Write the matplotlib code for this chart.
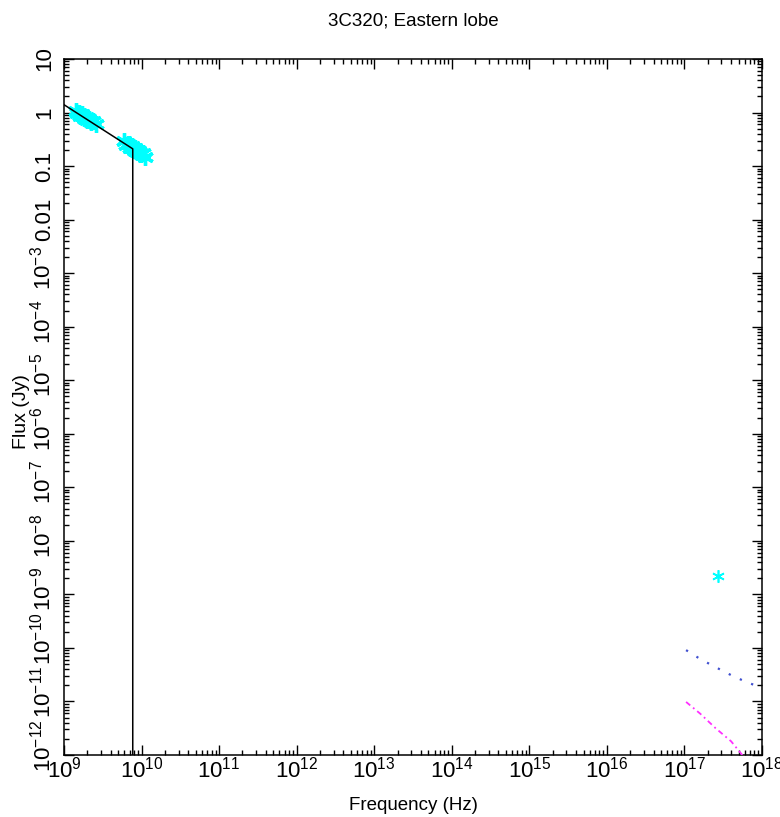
import numpy as np
import matplotlib
matplotlib.use('Agg')
import matplotlib.pyplot as plt
from matplotlib import ticker, transforms

plt.rcParams['font.family'] = 'Liberation Sans'
plt.rcParams['mathtext.fontset'] = 'custom'
plt.rcParams['mathtext.rm'] = 'Liberation Sans'

# radio data (Hz, Jy)
radio_nu_low = [1.42e9, 1.48e9, 1.55e9, 1.62e9, 1.70e9, 1.80e9, 1.90e9, 2.00e9, 2.10e9, 2.25e9, 2.40e9, 2.55e9]
radio_S_low = [1.08, 0.97, 1.00, 0.88, 0.93, 0.80, 0.84, 0.73, 0.77, 0.66, 0.69, 0.60]
radio_nu_high = [5.9e9, 6.3e9, 6.7e9, 7.1e9, 7.5e9, 7.9e9, 8.3e9, 8.7e9, 9.2e9, 9.7e9, 10.3e9, 11.0e9]
radio_S_high = [0.29, 0.25, 0.26, 0.22, 0.24, 0.20, 0.215, 0.185, 0.195, 0.165, 0.175, 0.15]

# x-ray point
xray_nu = [2.7e17]
xray_S = [2.2e-9]

# synchrotron model
sync_nu = [1e9, 7.7e9, 7.7e9]
sync_S = [1.40, 0.21, 1e-14]

# inverse compton models
ic_nu = [1.05e17, 1.6e17, 2.5e17, 4.0e17, 6.3e17, 1.0e18, 1.3e18]
ic1_S = [9.1e-11, 6.2e-11, 4.4e-11, 3.1e-11, 2.3e-11, 1.8e-11, 1.6e-11]
ic2_S = [9.8e-12, 5.9e-12, 3.2e-12, 1.8e-12, 8.0e-13, 1.6e-13, 6e-14]

xexp = list(range(9, 19))
yexp = list(range(1, -13, -1))
ylabels_plain = {1: '10', 0: '1', -1: '0.1', -2: '0.01'}

fig = plt.figure(figsize=(7.8, 8.17), dpi=100)
ax = fig.add_axes([64/780, 62/817, 698/780, 696/817])

mk = (6, 2, 0)
ax.plot(radio_nu_low, radio_S_low, ls='none', marker=mk, ms=12, mew=2.4, color='cyan', zorder=2)
ax.plot(radio_nu_high, radio_S_high, ls='none', marker=mk, ms=12, mew=2.4, color='cyan', zorder=2)
ax.plot(xray_nu, xray_S, ls='none', marker=mk, ms=9, mew=1.2, color='cyan', zorder=2)
ax.plot(sync_nu, sync_S, color='black', lw=1.1, zorder=3)
ax.plot(ic_nu, ic1_S, color='#4050d0', lw=1.6, ls=(0, (1, 4.5)), zorder=3)
ax.plot(ic_nu, ic2_S, color='#ff30ff', lw=1.3, ls=(0, (3, 2, 1, 2)), zorder=3)

ax.set_xscale('log')
ax.set_yscale('log')
ax.set_xlim(1e9, 1e18)
ax.set_ylim(1e-12, 10)

ax.set_xticks([10.0**e for e in xexp])
ax.set_xticklabels([r'$\mathregular{10^{%d}}$' % e for e in xexp], fontsize=16)
ax.set_yticks([10.0**e for e in yexp])
ax.set_yticklabels([])
ax.xaxis.set_minor_locator(ticker.LogLocator(base=10, subs=np.arange(2, 10), numticks=200))
ax.yaxis.set_minor_locator(ticker.LogLocator(base=10, subs=np.arange(2, 10), numticks=200))
ax.xaxis.set_minor_formatter(ticker.NullFormatter())
ax.yaxis.set_minor_formatter(ticker.NullFormatter())
ax.tick_params(which='both', direction='in', top=True, right=True, width=1.0)
ax.tick_params(which='major', length=7.5)
ax.tick_params(which='minor', length=3.8)
ax.tick_params(axis='x', pad=1)
for s in ax.spines.values():
    s.set_linewidth(1.1)

# y tick labels, rotated like the original
ytr = ax.get_yaxis_transform()
ytr_shift = transforms.offset_copy(ytr, fig=fig, x=0, y=-17, units='dots')
for e in yexp:
    if e in ylabels_plain:
        ax.text(-0.02, 10.0**e, ylabels_plain[e], transform=ytr, rotation=90,
                rotation_mode='anchor', ha='center', va='baseline', fontsize=16)
    else:
        ax.text(-0.02, 10.0**e, r'$\mathregular{10^{%d}}$' % e, transform=ytr_shift,
                rotation=90, rotation_mode='anchor', ha='left', va='baseline', fontsize=16)

fig.text(413/780, 1 - 21/817, '3C320; Eastern lobe', ha='center', va='center', fontsize=13.5)
fig.text(413/780, 1 - 806/817, 'Frequency (Hz)', ha='center', va='center', fontsize=13.5)
fig.text(21/780, 1 - 412/817, 'Flux (Jy)', rotation=90, ha='center', va='center', fontsize=14)

fig.savefig('out.png', dpi=100)
